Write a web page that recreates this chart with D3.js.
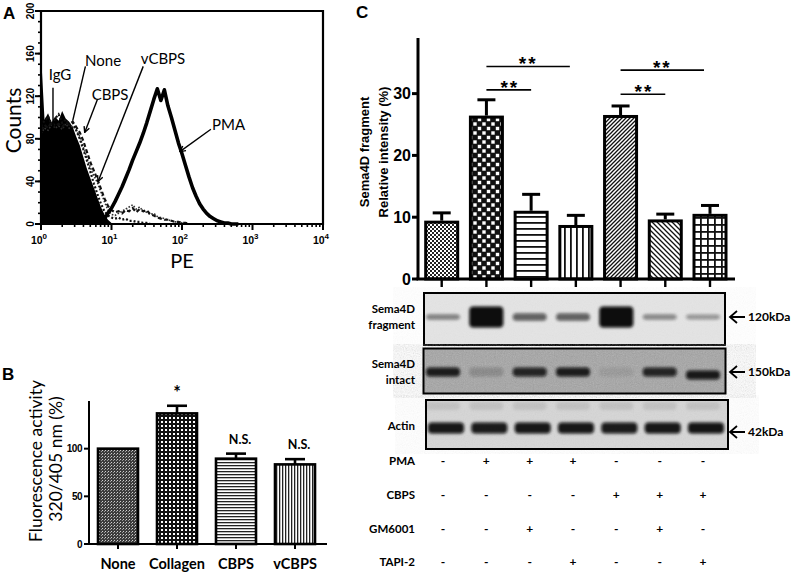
<!DOCTYPE html>
<html>
<head>
<meta charset="utf-8">
<script src="https://cdnjs.cloudflare.com/ajax/libs/d3/7.8.5/d3.min.js"></script>
<style>
  body { margin: 0; background: #fff; }
  svg { display: block; }
</style>
</head>
<body>
<div id="fig"></div>
<script>
// ---------- data ----------
// Panel A : flow cytometry histograms (log10 PE channel, step 0.05 decade)
const peLog = d3.range(0, 3.001, 0.05);
const countsIgG   = [160,98,104,95,101,97,106,99,96,91,82,74,63,52,43,34,25,16,9,4,1,0,0,0,0,0,0,0,0,0,0,0,0,0,0,0,0,0,0,0,0,0,0,0,0,0,0,0,0,0,0,0,0,0,0,0,0,0,0,0,0];
const countsNone  = [92,97,101,94,99,103,95,98,93,95,88,80,70,60,49,38,28,19,12,8,6,5,6,4,5,3,3,2,2,1,1,0,0,0,0,0,0,0,0,0,0,0,0,0,0,0,0,0,0,0,0,0,0,0,0,0,0,0,0,0,0];
const countsCBPS  = [88,93,90,96,92,94,91,95,93,96,91,86,78,68,58,50,42,33,24,17,13,11,12,10,13,12,15,11,14,12,13,9,8,6,5,4,4,3,2,2,1,1,0,0,0,0,0,0,0,0,0,0,0,0,0,0,0,0,0,0,0];
const countsVCBPS = [85,90,88,93,90,92,89,94,90,92,88,82,72,62,53,45,39,30,21,13,9,8,10,12,14,16,18,14,16,12,11,9,10,7,6,5,4,3,2,2,1,0,0,0,0,0,0,0,0,0,0,0,0,0,0,0,0,0,0,0,0];
const countsPMA   = [0,0,0,0,0,0,0,0,0,0,0,0,0,0,0,0,0,0,5,10,15,21,28,35,43,51,60,68,76,85,95,106,117,127,116,126,111,100,88,76,66,55,44,34,26,19,14,10,7,5,3,2,1,1,0,0,0,0,0,0,0];
const countTicks = [0, 40, 80, 120, 160, 200];
const peTicks = [1, 10, 100, 1000, 10000];

// Panel B : fluorescence activity
const catB = ["None", "Collagen", "CBPS", "vCBPS"];
const valB = [100, 137, 89.5, 83.5];
const errB = [0, 8, 5.3, 5.5];
const sigB = ["", "*", "N.S.", "N.S."];
const ticksB = [0, 50, 100];

// Panel C : Sema4D fragment relative intensity (7 lanes)
const valC = [9.2, 26.2, 10.8, 8.5, 26.3, 9.4, 10.3];
const errC = [1.5, 2.8, 2.9, 1.8, 1.7, 1.1, 1.6];
const ticksC = [0, 10, 20, 30];
const sigPairs = [[1, 2, 30.6], [1, 3, 34.4], [4, 5, 29.9], [4, 6, 33.8]];

// Western blot band intensities (0..1)
const bandFragment = [0.45, 1, 0.6, 0.6, 1, 0.42, 0.36];
const bandIntact   = [0.9, 0.18, 0.85, 0.9, 0.08, 0.85, 0.92];
const bandActin    = [0.95, 0.93, 0.95, 0.95, 0.93, 0.95, 0.96];
const blotRows = [
  { name: ["Sema4D", "fragment"], kda: "120kDa", bands: bandFragment },
  { name: ["Sema4D", "intact"],   kda: "150kDa", bands: bandIntact },
  { name: ["Actin"],              kda: "42kDa",  bands: bandActin }
];
const treatNames = ["PMA", "CBPS", "GM6001", "TAPI-2"];
const treatments = [
  [0, 1, 1, 1, 0, 0, 0],
  [0, 0, 0, 0, 1, 1, 1],
  [0, 0, 1, 0, 0, 1, 0],
  [0, 0, 0, 1, 0, 0, 1]
];

// ---------- setup ----------
const W = 795, H = 574;
const calibri = "Lato, 'Open Sans', sans-serif";
const arial = "'Liberation Sans', Arial, sans-serif";

const svg = d3.select("#fig").append("svg")
  .attr("width", W).attr("height", H)
  .style("background", "#fff");

const defs = svg.append("defs");

function pat(id, w, h, draw) {
  const p = defs.append("pattern").attr("id", id)
    .attr("patternUnits", "userSpaceOnUse")
    .attr("width", w).attr("height", h);
  draw(p);
}
// B patterns
pat("pNone", 3, 3, p => {
  p.append("rect").attr("width", 3).attr("height", 3).attr("fill", "#3c3c3c");
  p.append("rect").attr("width", 1).attr("height", 1).attr("fill", "#d0d0d0");
  p.append("rect").attr("x", 2).attr("y", 1).attr("width", 1).attr("height", 1).attr("fill", "#999");
});
pat("pColl", 4, 4, p => {
  p.append("rect").attr("width", 4).attr("height", 4).attr("fill", "#111");
  p.append("rect").attr("x", 1).attr("y", 1).attr("width", 2).attr("height", 2).attr("fill", "#fff");
});
pat("pHorizFine", 3, 3, p => {
  p.append("rect").attr("width", 3).attr("height", 3).attr("fill", "#fff");
  p.append("rect").attr("width", 3).attr("height", 1.3).attr("fill", "#222");
});
pat("pVertFine", 3, 3, p => {
  p.append("rect").attr("width", 3).attr("height", 3).attr("fill", "#fff");
  p.append("rect").attr("width", 1.3).attr("height", 3).attr("fill", "#222");
});
// C patterns
pat("c1", 4, 4, p => {
  p.append("rect").attr("width", 4).attr("height", 4).attr("fill", "#fff");
  p.append("rect").attr("width", 2).attr("height", 2).attr("fill", "#222");
  p.append("rect").attr("x", 2).attr("y", 2).attr("width", 2).attr("height", 2).attr("fill", "#222");
});
pat("c2", 9, 9, p => {
  p.append("rect").attr("width", 9).attr("height", 9).attr("fill", "#111");
  p.append("rect").attr("x", 0.8).attr("y", 0.8).attr("width", 3.4).attr("height", 3.4).attr("fill", "#fff");
  p.append("rect").attr("x", 5.3).attr("y", 5.3).attr("width", 3.4).attr("height", 3.4).attr("fill", "#fff");
});
pat("c3", 6, 6, p => {
  p.append("rect").attr("width", 6).attr("height", 6).attr("fill", "#fff");
  p.append("rect").attr("width", 6).attr("height", 1.8).attr("fill", "#111");
});
pat("c4", 6, 6, p => {
  p.append("rect").attr("width", 6).attr("height", 6).attr("fill", "#fff");
  p.append("rect").attr("width", 1.8).attr("height", 6).attr("fill", "#111");
});
pat("c5", 4, 4, p => {
  p.append("rect").attr("width", 4).attr("height", 4).attr("fill", "#fff");
  p.append("path").attr("d", "M-1,1 L1,-1 M0,4 L4,0 M3,5 L5,3").attr("stroke", "#111").attr("stroke-width", 1.3);
});
pat("c6", 5, 5, p => {
  p.append("rect").attr("width", 5).attr("height", 5).attr("fill", "#fff");
  p.append("path").attr("d", "M-1,4 L1,6 M0,0 L5,5 M4,-1 L6,1").attr("stroke", "#111").attr("stroke-width", 1.3);
});
pat("c7", 7, 7, p => {
  p.append("rect").attr("width", 7).attr("height", 7).attr("fill", "#fff");
  p.append("rect").attr("width", 7).attr("height", 1.8).attr("fill", "#111");
  p.append("rect").attr("width", 1.8).attr("height", 7).attr("fill", "#111");
});
const patC = ["c1", "c2", "c3", "c4", "c5", "c6", "c7"];
const patB = ["pNone", "pColl", "pHorizFine", "pVertFine"];

// arrow head marker
defs.append("marker").attr("id", "arr")
  .attr("viewBox", "0 0 10 10").attr("refX", 9).attr("refY", 5)
  .attr("markerWidth", 7).attr("markerHeight", 7)
  .attr("markerUnits", "userSpaceOnUse")
  .attr("orient", "auto")
  .append("path").attr("d", "M1,1 L9,5 L1,9").attr("fill", "none")
  .attr("stroke", "#000").attr("stroke-width", 2);

defs.append("filter").attr("id", "blur").attr("x", "-30%").attr("y", "-60%")
  .attr("width", "160%").attr("height", "220%")
  .append("feGaussianBlur").attr("stdDeviation", 1.6);

const noise = defs.append("filter").attr("id", "noise");
noise.append("feTurbulence").attr("type", "fractalNoise").attr("baseFrequency", 0.9).attr("numOctaves", 2).attr("seed", 3);
noise.append("feColorMatrix").attr("type", "saturate").attr("values", 0);

// ---------- Panel A ----------
const xA = d3.scaleLog().domain([1, 10000]).range([41, 323]);
const yA = d3.scaleLinear().domain([0, 200]).range([224, 11]);
const gA = svg.append("g");

const pts = arr => arr.map((c, i) => [Math.pow(10, peLog[i]), c]);

gA.append("path")
  .datum(pts(countsIgG))
  .attr("fill", "#000")
  .attr("d", d3.area().x(d => xA(d[0])).y0(yA(0)).y1(d => yA(d[1])));

const lineA = d3.line().x(d => xA(d[0])).y(d => yA(d[1]));
const histStyles = [
  { data: countsVCBPS, dash: "1.6,1.6", w: 1.6, col: "#333" },
  { data: countsNone, dash: "2,2", w: 2.2, col: "#111" },
  { data: countsCBPS, dash: "4,2.5", w: 2.2, col: "#111" }
];
histStyles.forEach(s => {
  gA.append("path").datum(pts(s.data).filter(d => d[0] <= 300))
    .attr("fill", "none").attr("stroke", s.col)
    .attr("stroke-width", s.w).attr("stroke-dasharray", s.dash)
    .attr("d", lineA);
});
gA.append("path")
  .datum(pts(countsPMA).filter((d, i) => i >= 17 && i <= 56))
  .attr("fill", "none").attr("stroke", "#000").attr("stroke-width", 3.6)
  .attr("stroke-linejoin", "round")
  .attr("d", lineA);

// frame
gA.append("path")
  .attr("d", `M${xA(1)},${yA(0)} V${yA(200)} H${xA(10000)} V${yA(0)} H${xA(1)}`)
  .attr("fill", "none").attr("stroke", "#000").attr("stroke-width", 2.2);

// y ticks
const yMinor = d3.range(0, 201, 10);
gA.selectAll(".yminA").data(yMinor).join("line")
  .attr("x1", xA(1) - 3).attr("x2", xA(1))
  .attr("y1", d => yA(d)).attr("y2", d => yA(d))
  .attr("stroke", "#000").attr("stroke-width", 1.6);
gA.selectAll(".ymajA").data(countTicks).join("line")
  .attr("x1", xA(1) - 6).attr("x2", xA(1))
  .attr("y1", d => yA(d)).attr("y2", d => yA(d))
  .attr("stroke", "#000").attr("stroke-width", 2);
gA.selectAll(".ylabA").data(countTicks).join("text")
  .attr("transform", d => `translate(${xA(1) - 11},${yA(d)}) rotate(-90)`)
  .attr("text-anchor", "middle").attr("dy", "0.35em")
  .attr("font-family", arial).attr("font-weight", "bold").attr("font-size", 10)
  .text(d => d);

// x ticks
const xMinor = [];
[1, 10, 100, 1000].forEach(dec => { for (let m = 2; m <= 9; m++) xMinor.push(dec * m); });
gA.selectAll(".xminA").data(xMinor).join("line")
  .attr("x1", d => xA(d)).attr("x2", d => xA(d))
  .attr("y1", yA(0)).attr("y2", yA(0) + 3)
  .attr("stroke", "#000").attr("stroke-width", 1.6);
gA.selectAll(".xmajA").data(peTicks).join("line")
  .attr("x1", d => xA(d)).attr("x2", d => xA(d))
  .attr("y1", yA(0)).attr("y2", yA(0) + 6)
  .attr("stroke", "#000").attr("stroke-width", 2);
const xl = gA.selectAll(".xlabA").data(peTicks).join("text")
  .attr("x", d => xA(d) - 2).attr("y", 244)
  .attr("text-anchor", "middle")
  .attr("font-family", arial).attr("font-weight", "bold").attr("font-size", 10.5);
xl.append("tspan").text("10");
xl.append("tspan").attr("dy", -5).attr("font-size", 8).text(d => Math.round(Math.log10(d)));

gA.append("text").attr("x", xA(100)).attr("y", 268)
  .attr("text-anchor", "middle").attr("font-family", calibri).attr("font-size", 20)
  .text("PE");
gA.append("text").attr("transform", `translate(21,${yA(100) + 3}) rotate(-90)`)
  .attr("text-anchor", "middle").attr("font-family", calibri).attr("font-size", 21)
  .text("Counts");

// annotations (data coordinates: [log10 PE, count])
const annA = [
  { t: "IgG",   at: [0.27, 140], from: [0.17, 128], to: [0.17, 70], head: false },
  { t: "None",  at: [0.88, 153], from: [0.63, 148], to: [0.45, 97], head: false },
  { t: "CBPS",  at: [0.98, 121], from: [0.80, 117], to: [0.62, 86], head: true },
  { t: "vCBPS", at: [1.73, 155], from: [1.45, 148], to: [0.81, 40], head: true },
  { t: "PMA",   at: [2.66, 93],  from: [2.41, 89],  to: [1.97, 68], head: true }
];
annA.forEach(a => {
  gA.append("line")
    .attr("x1", xA(Math.pow(10, a.from[0]))).attr("y1", yA(a.from[1]))
    .attr("x2", xA(Math.pow(10, a.to[0]))).attr("y2", yA(a.to[1]))
    .attr("stroke", "#000").attr("stroke-width", 1.4)
    .attr("marker-end", a.head ? "url(#arr)" : null);
  gA.append("text")
    .attr("x", xA(Math.pow(10, a.at[0]))).attr("y", yA(a.at[1]))
    .attr("text-anchor", "middle").attr("dy", "0.35em")
    .attr("font-family", calibri).attr("font-size", 15)
    .text(a.t);
});

// ---------- Panel B ----------
const xB = d3.scalePoint().domain(catB).range([118, 295]);
const yB = d3.scaleLinear().domain([0, 150]).range([544, 401]);
const gB = svg.append("g");
const bwB = 40;

gB.selectAll(".barB").data(catB).join("rect")
  .attr("x", d => xB(d) - bwB / 2).attr("width", bwB)
  .attr("y", (d, i) => yB(valB[i])).attr("height", (d, i) => yB(0) - yB(valB[i]))
  .attr("fill", (d, i) => `url(#${patB[i]})`)
  .attr("stroke", "#000").attr("stroke-width", 2.6);

catB.forEach((c, i) => {
  if (errB[i] > 0) {
    gB.append("line").attr("x1", xB(c)).attr("x2", xB(c))
      .attr("y1", yB(valB[i])).attr("y2", yB(valB[i] + errB[i]))
      .attr("stroke", "#000").attr("stroke-width", 2.6);
    gB.append("line").attr("x1", xB(c) - 10).attr("x2", xB(c) + 10)
      .attr("y1", yB(valB[i] + errB[i])).attr("y2", yB(valB[i] + errB[i]))
      .attr("stroke", "#000").attr("stroke-width", 2.6);
  }
  if (sigB[i]) {
    gB.append("text").attr("x", xB(c) + (sigB[i] === "*" ? 0 : 4))
      .attr("y", sigB[i] === "*" ? yB(valB[i] + errB[i]) - 7 : yB(valB[i] + errB[i]) - 10)
      .attr("text-anchor", "middle")
      .attr("font-family", calibri).attr("font-weight", "bold")
      .attr("font-size", sigB[i] === "*" ? 18 : 12.5)
      .text(sigB[i]);
  }
});

gB.append("line").attr("x1", 89).attr("x2", 89).attr("y1", yB(150)).attr("y2", yB(0))
  .attr("stroke", "#000").attr("stroke-width", 2);
gB.append("line").attr("x1", 89).attr("x2", 327).attr("y1", yB(0)).attr("y2", yB(0))
  .attr("stroke", "#000").attr("stroke-width", 2);
gB.selectAll(".ytB").data(ticksB).join("line")
  .attr("x1", 84).attr("x2", 89).attr("y1", d => yB(d)).attr("y2", d => yB(d))
  .attr("stroke", "#000").attr("stroke-width", 2);
gB.selectAll(".ylB").data(ticksB).join("text")
  .attr("x", 82).attr("y", d => yB(d)).attr("dy", "0.35em")
  .attr("text-anchor", "end").attr("font-family", arial).attr("font-weight", "bold")
  .attr("font-size", 10).attr("letter-spacing", -0.5)
  .text(d => d);
gB.selectAll(".xtB").data(catB).join("line")
  .attr("x1", d => xB(d)).attr("x2", d => xB(d)).attr("y1", yB(0)).attr("y2", yB(0) + 5)
  .attr("stroke", "#000").attr("stroke-width", 2);
gB.selectAll(".xlB").data(catB).join("text")
  .attr("x", d => xB(d)).attr("y", 569)
  .attr("text-anchor", "middle").attr("font-family", calibri).attr("font-weight", "bold")
  .attr("font-size", 14.5)
  .text(d => d);
gB.append("text").attr("transform", "translate(36,461) rotate(-90)")
  .attr("text-anchor", "middle").attr("dy", "0.35em")
  .attr("font-family", calibri).attr("font-size", 17.5)
  .text("Fluorescence activity");
gB.append("text").attr("transform", "translate(56,459) rotate(-90)")
  .attr("text-anchor", "middle").attr("dy", "0.35em")
  .attr("font-family", calibri).attr("font-size", 17.5)
  .text("320/405 nm (%)");

// ---------- Panel C ----------
const lanes = d3.range(7);
const xC = d3.scalePoint().domain(lanes).range([441.7, 710]);
const yC = d3.scaleLinear().domain([0, 39]).range([279, 38]);
const gC = svg.append("g");
const bwC = 32;

gC.selectAll(".barC").data(lanes).join("rect")
  .attr("x", d => xC(d) - bwC / 2).attr("width", bwC)
  .attr("y", d => yC(valC[d])).attr("height", d => yC(0) - yC(valC[d]))
  .attr("fill", d => `url(#${patC[d]})`)
  .attr("stroke", "#000").attr("stroke-width", 3);

lanes.forEach(i => {
  const top = yC(valC[i] + errC[i]);
  gC.append("line").attr("x1", xC(i)).attr("x2", xC(i))
    .attr("y1", yC(valC[i]) - 1.5).attr("y2", top)
    .attr("stroke", "#000").attr("stroke-width", 3);
  gC.append("line").attr("x1", xC(i) - 9).attr("x2", xC(i) + 9)
    .attr("y1", top).attr("y2", top)
    .attr("stroke", "#000").attr("stroke-width", 3);
});

sigPairs.forEach(([a, b, h]) => {
  const y = yC(h);
  gC.append("line").attr("x1", xC(a)).attr("x2", xC(b) - (b - a > 1 ? 6 : 0))
    .attr("y1", y).attr("y2", y).attr("stroke", "#000").attr("stroke-width", 1.6);
  gC.append("text")
    .attr("x", (xC(a) + xC(b) - (b - a > 1 ? 6 : 0)) / 2 + (b - a > 1 ? 0 : 1))
    .attr("y", y + 4)
    .attr("text-anchor", "middle").attr("font-family", arial).attr("font-weight", "bold")
    .attr("font-size", 19).attr("letter-spacing", 2)
    .text("**");
});

gC.append("line").attr("x1", 418).attr("x2", 418).attr("y1", 38).attr("y2", yC(0))
  .attr("stroke", "#000").attr("stroke-width", 3);
gC.append("line").attr("x1", 416.5).attr("x2", 735).attr("y1", yC(0)).attr("y2", yC(0))
  .attr("stroke", "#000").attr("stroke-width", 3);
gC.selectAll(".ytC").data(ticksC).join("line")
  .attr("x1", 412).attr("x2", 418).attr("y1", d => yC(d)).attr("y2", d => yC(d))
  .attr("stroke", "#000").attr("stroke-width", 3);
gC.selectAll(".ylC").data(ticksC).join("text")
  .attr("x", 411).attr("y", d => yC(d)).attr("dy", "0.36em")
  .attr("text-anchor", "end").attr("font-family", "'Liberation Sans Narrow', " + arial)
  .attr("font-weight", "bold").attr("font-size", 16)
  .text(d => d);
gC.selectAll(".xtC").data(lanes).join("line")
  .attr("x1", d => xC(d)).attr("x2", d => xC(d)).attr("y1", yC(0)).attr("y2", yC(0) + 8)
  .attr("stroke", "#000").attr("stroke-width", 2.4);
gC.append("text").attr("transform", "translate(364,152) rotate(-90)")
  .attr("text-anchor", "middle").attr("dy", "0.35em")
  .attr("font-family", arial).attr("font-weight", "bold").attr("font-size", 13)
  .text("Sema4D fragment");
gC.append("text").attr("transform", "translate(383,152) rotate(-90)")
  .attr("text-anchor", "middle").attr("dy", "0.35em")
  .attr("font-family", arial).attr("font-weight", "bold").attr("font-size", 13)
  .text("Relative intensity (%)");

// ---------- Western blot ----------
const xL = d3.scalePoint().domain(lanes).range([443, 703]);
const boxes = [
  { x: 424, y: 293, w: 301, h: 52, bg: "#e4e4e4", noise: 0.08, by: 317, bw: 34 },
  { x: 423.5, y: 348.5, w: 302, h: 45, bg: "#a4a4a4", noise: 0.35, by: 372, bw: 34 },
  { x: 426, y: 400, w: 302, h: 49, bg: "#d6d6d6", noise: 0.12, by: 428, bw: 36 }
];
const gW = svg.append("g");
blotRows.forEach((row, r) => {
  const b = boxes[r];
  const g = gW.append("g");
  g.append("rect").attr("x", b.x).attr("y", b.y).attr("width", b.w).attr("height", b.h)
    .attr("fill", b.bg);
  g.append("rect").attr("x", b.x).attr("y", b.y).attr("width", b.w).attr("height", b.h)
    .attr("filter", "url(#noise)").attr("opacity", b.noise);
  if (r === 2) {
    // faint upper bands of actin blot
    g.selectAll(".ghost").data(lanes).join("rect")
      .attr("x", d => xL(d) - 17).attr("y", 402).attr("width", 34).attr("height", 8)
      .attr("rx", 4).attr("fill", "#888").attr("opacity", 0.25).attr("filter", "url(#blur)");
  }
  g.selectAll(".band").data(lanes).join("rect")
    .attr("x", d => xL(d) - b.bw / 2 + (r === 2 ? 3 : 0))
    .attr("width", b.bw)
    .attr("y", d => {
      const h = r === 0 ? 4 + 17 * Math.pow(row.bands[d], 3) : (r === 1 ? 9 : 11);
      return b.by - h / 2 + (r === 1 && d === 6 ? 3 : 0);
    })
    .attr("height", d => r === 0 ? 4 + 17 * Math.pow(row.bands[d], 3) : (r === 1 ? 9 : 11))
    .attr("rx", 4)
    .attr("fill", "#080808")
    .attr("opacity", d => row.bands[d])
    .attr("filter", "url(#blur)");
  g.append("rect").attr("x", b.x).attr("y", b.y).attr("width", b.w).attr("height", b.h)
    .attr("fill", "none").attr("stroke", "#000").attr("stroke-width", 2);

  // labels
  const lt = g.append("text").attr("text-anchor", "end")
    .attr("font-family", calibri).attr("font-weight", "bold").attr("font-size", 11.5);
  if (row.name.length === 2) {
    lt.append("tspan").attr("x", 415).attr("y", b.by - 4).text(row.name[0]);
    lt.append("tspan").attr("x", 415).attr("y", b.by + 12).text(row.name[1]);
  } else {
    lt.append("tspan").attr("x", 415).attr("y", b.by + 2).text(row.name[0]);
  }
  const ay = b.by + (r === 2 ? 4 : 0);
  g.append("path")
    .attr("d", `M745,${ay} H730 M737,${ay - 6} L730,${ay} L737,${ay + 6}`)
    .attr("fill", "none").attr("stroke", "#000").attr("stroke-width", 1.8);
  g.append("text").attr("x", 748).attr("y", ay).attr("dy", "0.35em")
    .attr("font-family", calibri).attr("font-weight", "bold").attr("font-size", 12)
    .text(row.kda);
});

// treatment table
const rowY = [461, 495, 529, 562];
treatNames.forEach((name, r) => {
  gW.append("text").attr("x", 415).attr("y", rowY[r]).attr("dy", "0.35em")
    .attr("text-anchor", "end").attr("font-family", calibri).attr("font-weight", "bold")
    .attr("font-size", 11.5).text(name);
  gW.selectAll(".sign" + r).data(lanes).join("text")
    .attr("x", d => xL(d)).attr("y", rowY[r]).attr("dy", "0.35em")
    .attr("text-anchor", "middle").attr("font-family", calibri).attr("font-weight", "bold")
    .attr("font-size", 12).attr("fill", "#000")
    .text(d => treatments[r][d] ? "+" : "-");
});

// panel letters
svg.append("text").attr("x", 3).attr("y", 19).attr("font-family", arial)
  .attr("font-weight", "bold").attr("font-size", 17).text("A");
svg.append("text").attr("x", 2).attr("y", 380).attr("font-family", arial)
  .attr("font-weight", "bold").attr("font-size", 17).text("B");
svg.append("text").attr("x", 356).attr("y", 18).attr("font-family", arial)
  .attr("font-weight", "bold").attr("font-size", 17).text("C");
</script>
</body>
</html>
